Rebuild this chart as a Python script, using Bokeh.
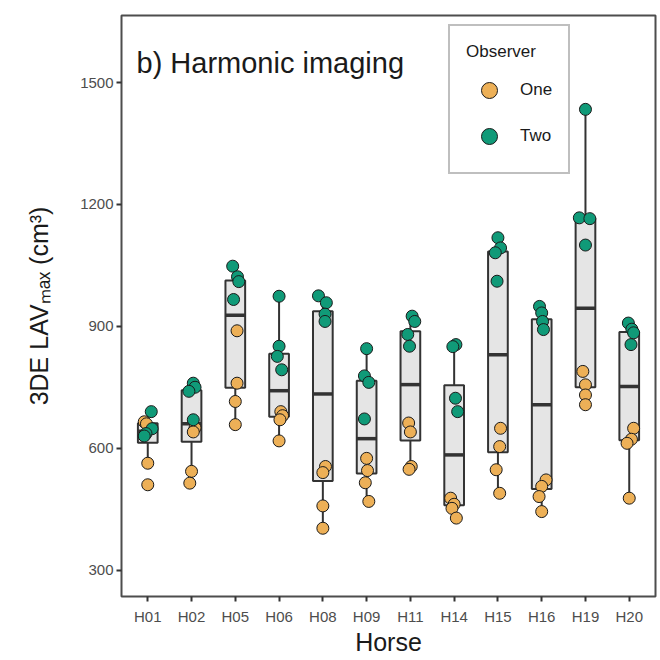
import numpy as np
from bokeh.plotting import figure
from bokeh.models import Range1d, FixedTicker, Label, Legend, LegendItem, ColumnDataSource
from bokeh.embed import file_html
from bokeh.resources import INLINE

# ---- data: 3DE LAVmax (cm^3), harmonic imaging, four measurements per observer ----
horses = ["H01", "H02", "H05", "H06", "H08", "H09", "H11", "H14", "H15", "H16", "H19", "H20"]

observer_one = [
    [665, 660, 563, 510],
    [650, 640, 543, 514],
    [889, 760, 715, 658],
    [690, 680, 670, 618],
    [555, 540, 458, 403],
    [575, 545, 515, 469],
    [662, 640, 555, 548],
    [477, 462, 452, 428],
    [649, 604, 547, 489],
    [522, 506, 481, 444],
    [789, 756, 731, 707],
    [649, 622, 612, 477],
]
observer_two = [
    [690, 648, 636, 630],
    [760, 750, 740, 670],
    [1048, 1022, 1010, 966],
    [974, 851, 826, 793],
    [975, 958, 930, 912],
    [845, 778, 762, 672],
    [925, 912, 880, 851],
    [855, 850, 723, 690],
    [1118, 1093, 1081, 1011],
    [949, 933, 912, 892],
    [1434, 1167, 1165, 1100],
    [908, 893, 884, 855],
]

# horizontal jitter of each point (category units)
jitter_one = [
    [-0.08, -0.03, 0.0, 0.0], [0.08, 0.04, 0.0, -0.04], [0.04, 0.04, 0.0, 0.0],
    [0.04, 0.08, 0.02, 0.0], [0.06, 0.0, 0.0, 0.0], [0.0, 0.02, -0.03, 0.05],
    [-0.04, 0.0, 0.02, -0.03], [-0.08, 0.0, -0.05, 0.05], [0.06, 0.04, -0.04, 0.04],
    [0.1, 0.0, -0.06, 0.0], [-0.06, 0.0, 0.0, 0.0], [0.1, 0.05, -0.05, 0.0],
]
jitter_two = [
    [0.08, 0.1, -0.04, -0.08], [0.04, 0.08, -0.06, 0.04], [-0.06, 0.05, 0.08, -0.04],
    [0.0, 0.0, -0.04, 0.06], [-0.1, 0.08, 0.05, 0.05], [0.0, -0.05, 0.05, -0.05],
    [0.04, 0.1, -0.06, -0.02], [0.04, -0.03, 0.03, 0.08], [0.0, 0.06, -0.06, -0.02],
    [-0.05, 0.0, 0.02, 0.04], [0.0, -0.14, 0.1, 0.0], [-0.02, 0.06, 0.1, 0.04],
]

y_ticks = [300, 600, 900, 1200, 1500]

# ---- layout ----
W, H = 660, 660
LEFT, RIGHT, TOP, BOTTOM = 121, 5, 15, 64
FW, FH = W - LEFT - RIGHT, H - TOP - BOTTOM
X0, X1 = 0.4, len(horses) + 0.6
Y0, Y1 = 235, 1665
FONT = "Liberation Sans"
ORANGE, GREEN = "#EDB057", "#109A78"
BOX_W = 0.45


def px_x(px):
    """canvas pixel column -> data x"""
    return X0 + (px - LEFT) / FW * (X1 - X0)


def px_y(py):
    """canvas pixel row (from top) -> data y"""
    return Y1 - (py - TOP) / FH * (Y1 - Y0)


p = figure(width=W, height=H, output_backend="svg", toolbar_location=None,
           x_range=Range1d(X0, X1), y_range=Range1d(Y0, Y1),
           min_border_left=LEFT, min_border_right=RIGHT,
           min_border_top=TOP, min_border_bottom=BOTTOM)
p.background_fill_color = "white"
p.border_fill_color = "white"
p.outline_line_color = "#4d4d4d"
p.outline_line_width = 2
p.grid.visible = False

xs = list(range(1, len(horses) + 1))
p.xaxis.ticker = FixedTicker(ticks=xs)
p.xaxis.major_label_overrides = {x: h for x, h in zip(xs, horses)}
p.yaxis.ticker = FixedTicker(ticks=y_ticks)
for ax in (p.xaxis, p.yaxis):
    ax.axis_line_color = None
    ax.minor_tick_line_color = None
    ax.major_tick_in = 0
    ax.major_tick_out = 5
    ax.major_tick_line_color = "#333333"
    ax.major_tick_line_width = 2
    ax.major_label_text_font = FONT
    ax.major_label_text_color = "#4d4d4d"
    ax.major_label_text_font_size = "15px"
    ax.axis_label_text_font = FONT
    ax.axis_label_text_font_style = "normal"
    ax.axis_label_text_color = "#1a1a1a"
p.xaxis.major_label_standoff = 6
p.yaxis.major_label_standoff = 3

p.xaxis.axis_label = "Horse"
p.xaxis.axis_label_text_font_size = "25px"
p.xaxis.axis_label_standoff = 0
p.yaxis.axis_label = "3DE LAV\u2098\u2090\u2093 (cm\u00b3)"
p.yaxis.axis_label_text_font_size = "25px"
p.yaxis.axis_label_standoff = 24

# ---- box statistics (Tukey hinges, 1.5 IQR whiskers) ----
q1s, meds, q3s, los, his = [], [], [], [], []
for a, b in zip(observer_one, observer_two):
    v = np.array(a + b, dtype=float)
    q1, med, q3 = np.percentile(v, [25, 50, 75])
    iqr = q3 - q1
    q1s.append(q1); meds.append(med); q3s.append(q3)
    los.append(v[v >= q1 - 1.5 * iqr].min())
    his.append(v[v <= q3 + 1.5 * iqr].max())

box = ColumnDataSource(dict(x=xs, q1=q1s, med=meds, q3=q3s, lo=los, hi=his,
                            xl=[x - BOX_W / 2 for x in xs], xr=[x + BOX_W / 2 for x in xs]))
p.segment(x0="x", y0="q3", x1="x", y1="hi", source=box, line_color="#333333", line_width=2)
p.segment(x0="x", y0="q1", x1="x", y1="lo", source=box, line_color="#333333", line_width=2)
p.vbar(x="x", width=BOX_W, top="q3", bottom="q1", source=box,
       fill_color="#E5E5E5", line_color="#333333", line_width=2)
p.segment(x0="xl", y0="med", x1="xr", y1="med", source=box, line_color="#333333", line_width=3.5)

# ---- points ----
def points(vals, jit):
    px, py = [], []
    for x, vv, jj in zip(xs, vals, jit):
        for v, j in zip(vv, jj):
            px.append(x + j)
            py.append(v)
    return ColumnDataSource(dict(x=px, y=py))

r_one = p.scatter("x", "y", source=points(observer_one, jitter_one), size=12,
                  fill_color=ORANGE, line_color="#1a1a1a", line_width=1)
r_two = p.scatter("x", "y", source=points(observer_two, jitter_two), size=12,
                  fill_color=GREEN, line_color="#1a1a1a", line_width=1)

legend = Legend(items=[LegendItem(label="One", renderers=[r_one]),
                       LegendItem(label="Two", renderers=[r_two])],
                title="Observer", location=(327, 422), orientation="vertical",
                padding=16, spacing=6, margin=0,
                glyph_height=40, glyph_width=46, label_height=40, label_standoff=8,
                title_standoff=8,
                border_line_color="#808080", border_line_width=2.5,
                background_fill_color="white", background_fill_alpha=1.0,
                title_text_font=FONT, title_text_font_size="17px",
                title_text_font_style="normal", title_text_color="#1a1a1a",
                label_text_font=FONT, label_text_font_size="17px", label_text_color="#1a1a1a")
p.add_layout(legend)

# ---- panel tag ----
p.add_layout(Label(x=px_x(136), y=px_y(62), text="b) Harmonic imaging",
                   text_font=FONT, text_font_size="29px", text_color="#1a1a1a",
                   text_align="left", text_baseline="alphabetic"))

open("out.html", "w").write(file_html(p, INLINE))
